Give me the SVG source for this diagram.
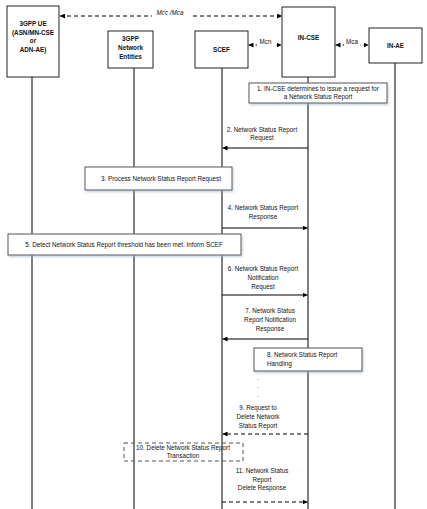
<svg xmlns="http://www.w3.org/2000/svg" width="427" height="509" viewBox="0 0 427 509">
<defs>
<marker id="ah" viewBox="0 0 6 6" refX="6" refY="3" markerWidth="5" markerHeight="5" markerUnits="userSpaceOnUse" orient="auto-start-reverse">
<path d="M0,0 L6,3 L0,6 z" fill="#000"/>
</marker>
<filter id="sh" x="-10%" y="-20%" width="120%" height="160%">
<feDropShadow dx="1" dy="1.5" stdDeviation="0.8" flood-color="#9fb0c8" flood-opacity="0.6"/>
</filter>
<style>
text{font-family:"Liberation Sans",Arial,sans-serif;font-size:6.3px;fill:#111}
.h{font-weight:bold;text-anchor:middle}
.c{text-anchor:middle}
.ent{fill:#fff;stroke:#222;stroke-width:1}
.step{fill:#fff;stroke:#555;stroke-width:1;filter:url(#sh)}
.life{stroke:#000;stroke-width:1}
.msg{stroke:#000;stroke-width:1;fill:none;marker-end:url(#ah)}
.dash{stroke-dasharray:4,3}
.both{marker-start:url(#ah)}
</style>
</defs>
<g id="lifelines">
<line class="life" x1="32" y1="77" x2="32" y2="509"/>
<line class="life" x1="134" y1="68" x2="134" y2="509"/>
<line class="life" x1="222" y1="68" x2="222" y2="509"/>
<line class="life" x1="308" y1="77" x2="308" y2="509"/>
<line class="life" x1="395" y1="63" x2="395" y2="509" stroke="#444"/>
</g>
<g id="ue"><rect class="ent" x="7" y="6" width="52" height="71"/>
<text class="h" x="33" y="26">3GPP UE</text><text class="h" x="33" y="35">(ASN/MN-CSE</text><text class="h" x="33" y="43">or</text><text class="h" x="33" y="52">ADN-AE)</text></g>
<g id="nwe"><rect class="ent" x="108" y="31" width="45" height="37"/>
<text class="h" x="130.5" y="41">3GPP</text><text class="h" x="130.5" y="50">Network</text><text class="h" x="130.5" y="59">Entities</text></g>
<g id="scef"><rect class="ent" x="195" y="31" width="53" height="37"/><text class="h" x="221.5" y="52">SCEF</text></g>
<g id="incse"><rect class="ent" x="282" y="7" width="53" height="70"/><text class="h" x="308.5" y="40">IN-CSE</text></g>
<g id="inae"><rect class="ent" x="369" y="28" width="53" height="35" stroke="#555"/><text class="h" x="395.5" y="48">IN-AE</text></g>
<g id="connectors">
<line class="msg dash both" x1="60" y1="16" x2="282" y2="16"/>
<rect x="152" y="10" width="39" height="9" fill="#fff"/>
<text class="c" x="170" y="15" font-style="italic">Mcc /Mca</text>
<line class="msg dash both" x1="248.5" y1="45" x2="281.5" y2="45"/>
<rect x="257" y="38" width="17" height="8" fill="#fff"/>
<text class="c" x="265.5" y="44">Mcn</text>
<line class="msg dash both" x1="335.5" y1="45" x2="368.5" y2="45"/>
<rect x="344" y="38" width="16" height="8" fill="#fff"/>
<text class="c" x="352" y="44">Mca</text>
<line class="msg" x1="308" y1="148" x2="222.5" y2="148"/>
<line class="msg" x1="222" y1="228" x2="307.5" y2="228"/>
<line class="msg" x1="222" y1="295" x2="307.5" y2="295"/>
<line class="msg" x1="308" y1="339" x2="222.5" y2="339"/>
<line class="msg dash" x1="308" y1="434" x2="222.5" y2="434"/>
<line class="msg dash" x1="222" y1="502" x2="307.5" y2="502"/>
</g>
<g id="step1"><rect class="step" x="249" y="83" width="138" height="20"/>
<text class="c" x="318" y="90.5">1. IN-CSE determines to issue a request for</text><text class="c" x="318" y="98.5">a Network Status Report</text></g>
<g id="step2"><text class="c" x="262" y="132">2. Network Status Report</text><text class="c" x="262" y="140">Request</text></g>
<g id="step3"><rect class="step" x="85" y="167" width="147" height="23"/>
<text class="c" x="161" y="181">3. Process Network Status Report Request</text></g>
<g id="step4"><text class="c" x="263" y="210">4. Network Status Report</text><text class="c" x="263" y="219">Response</text></g>
<g id="step5"><rect class="step" x="8" y="234" width="233" height="21"/>
<text class="c" x="124" y="246.5">5. Detect Network Status Report threshold has been met.  Inform SCEF</text></g>
<g id="step6"><text class="c" x="263" y="271">6. Network Status Report</text><text class="c" x="263" y="280">Notification</text><text class="c" x="263" y="289">Request</text></g>
<g id="step7"><text class="c" x="270" y="313">7. Network Status</text><text class="c" x="270" y="322">Report Notification</text><text class="c" x="270" y="331">Response</text></g>
<g id="step8"><rect class="step" x="254" y="348" width="108" height="23"/>
<text x="267" y="356.5">8. Network Status Report</text><text x="267" y="365.5">Handling</text></g>
<g id="dots"><text class="c" x="258" y="380">.</text><text class="c" x="258" y="388">.</text><text class="c" x="258" y="397">.</text></g>
<g id="step9"><text class="c" x="258" y="410">9. Request to</text><text class="c" x="258" y="419">Delete Network</text><text class="c" x="258" y="428">Status Report</text></g>
<g id="step10"><rect x="124" y="443" width="119" height="18" fill="none" stroke="#555" stroke-width="1" stroke-dasharray="4,3"/>
<text class="c" x="183" y="449.5">10. Delete Network Status Report</text><text class="c" x="183" y="458">Transaction</text></g>
<g id="step11"><text class="c" x="262" y="473">11. Network Status</text><text class="c" x="262" y="481.5">Report</text><text class="c" x="262" y="490">Delete Response</text></g>
</svg>
